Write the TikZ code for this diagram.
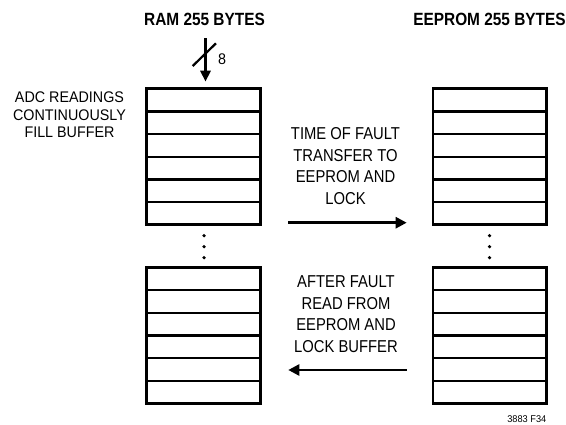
\documentclass[tikz,border=0pt]{standalone}
\usepackage{fontspec}
\setmainfont{Liberation Sans}
\newfontfamily\lblfont[FakeStretch=0.93]{Liberation Sans}
\newfontfamily\midfont[FakeStretch=0.86]{Liberation Sans}
\newfontfamily\ttlfont[FakeStretch=0.87]{Liberation Sans}
\newfontfamily\smlfont[FakeStretch=0.94]{Liberation Sans}
\usetikzlibrary{arrows.meta}
\begin{document}
\begin{tikzpicture}[x=1pt,y=-1pt,
  block/.style={draw,line width=2.6pt,minimum width=113.5pt,minimum height=136pt,inner sep=0pt,outer sep=0pt},
  rowline/.style={line width=2.4pt},
  flow/.style={line width=2.6pt,-{Triangle[length=11pt,width=11pt]}},
  busarrow/.style={line width=2.8pt,-{Triangle[length=11pt,width=10pt]}},
  dotnode/.style={circle,fill=black,inner sep=0pt,minimum size=3.6pt},
  ttl/.style={inner sep=0pt,anchor=north,font=\ttlfont\bfseries\fontsize{17.7}{20}\selectfont},
  lbl/.style={inner sep=0pt,anchor=north,align=center,font=\lblfont\fontsize{15.4}{17.2}\selectfont},
  mid/.style={inner sep=0pt,anchor=north,align=center,font=\midfont\fontsize{17.2}{21.6}\selectfont},
  sml/.style={inner sep=0pt,font=\smlfont\fontsize{9.8}{11}\selectfont}]
\useasboundingbox (0,0) rectangle (566,425);

% titles
\node[ttl] (ramttl) at (204.5,13.3) {RAM 255 BYTES};
\node[ttl] (eepttl) at (489.5,13.3) {EEPROM 255 BYTES};

% blocks
\node[block] (ramA) at (203.5,156.7) {};
\node[block] (ramB) at (203.5,335.5) {};
\node[block] (eepA) at (489.7,156.7) {};
\node[block] (eepB) at (489.7,335.5) {};
\foreach \b in {ramA,ramB,eepA,eepB}{
  \foreach \i in {1,...,5}{
    \draw[rowline] ([yshift=-\i*22.67pt]\b.north west) -- ([yshift=-\i*22.67pt]\b.north east);
  }
}

% continuation dots
\foreach \y [count=\k] in {235.7,246.7,257.7}{
  \node[dotnode] (ldot\k) at (204,\y) {};
  \node[dotnode] (rdot\k) at (489.5,\y) {};
}

% 8-bit bus input
\coordinate (busin) at (205.5,38.3);
\coordinate (busend) at (205.5,81.7);
\draw[busarrow] (busin) -- (busend);
\draw[line width=2.2pt] (192.7,66) -- (216,43.3);
\node[sml,font=\lblfont\fontsize{15.4}{17}\selectfont,anchor=north] (buswidth) at (222,53.3) {8};

% left label
\node[lbl] (adclbl) at (69.5,92) {ADC READINGS\\CONTINUOUSLY\\FILL BUFFER};

% transfer arrows and labels
\node[mid] (fwdlbl) at (345.5,127.5) {TIME OF FAULT\\TRANSFER TO\\EEPROM AND\\LOCK};
\coordinate (fwdS) at (288.3,222.7);
\coordinate (fwdE) at (406.7,222.7);
\draw[flow] (fwdS) -- (fwdE);

\node[mid] (backlbl) at (346,275.5) {AFTER FAULT\\READ FROM\\EEPROM AND\\LOCK BUFFER};
\coordinate (backS) at (406.7,370);
\coordinate (backE) at (288.3,370);
\draw[flow] (backS) -- (backE);

% figure number
\node[sml,anchor=north east] (fignum) at (546.5,415) {3883 F34};
\end{tikzpicture}
\end{document}
